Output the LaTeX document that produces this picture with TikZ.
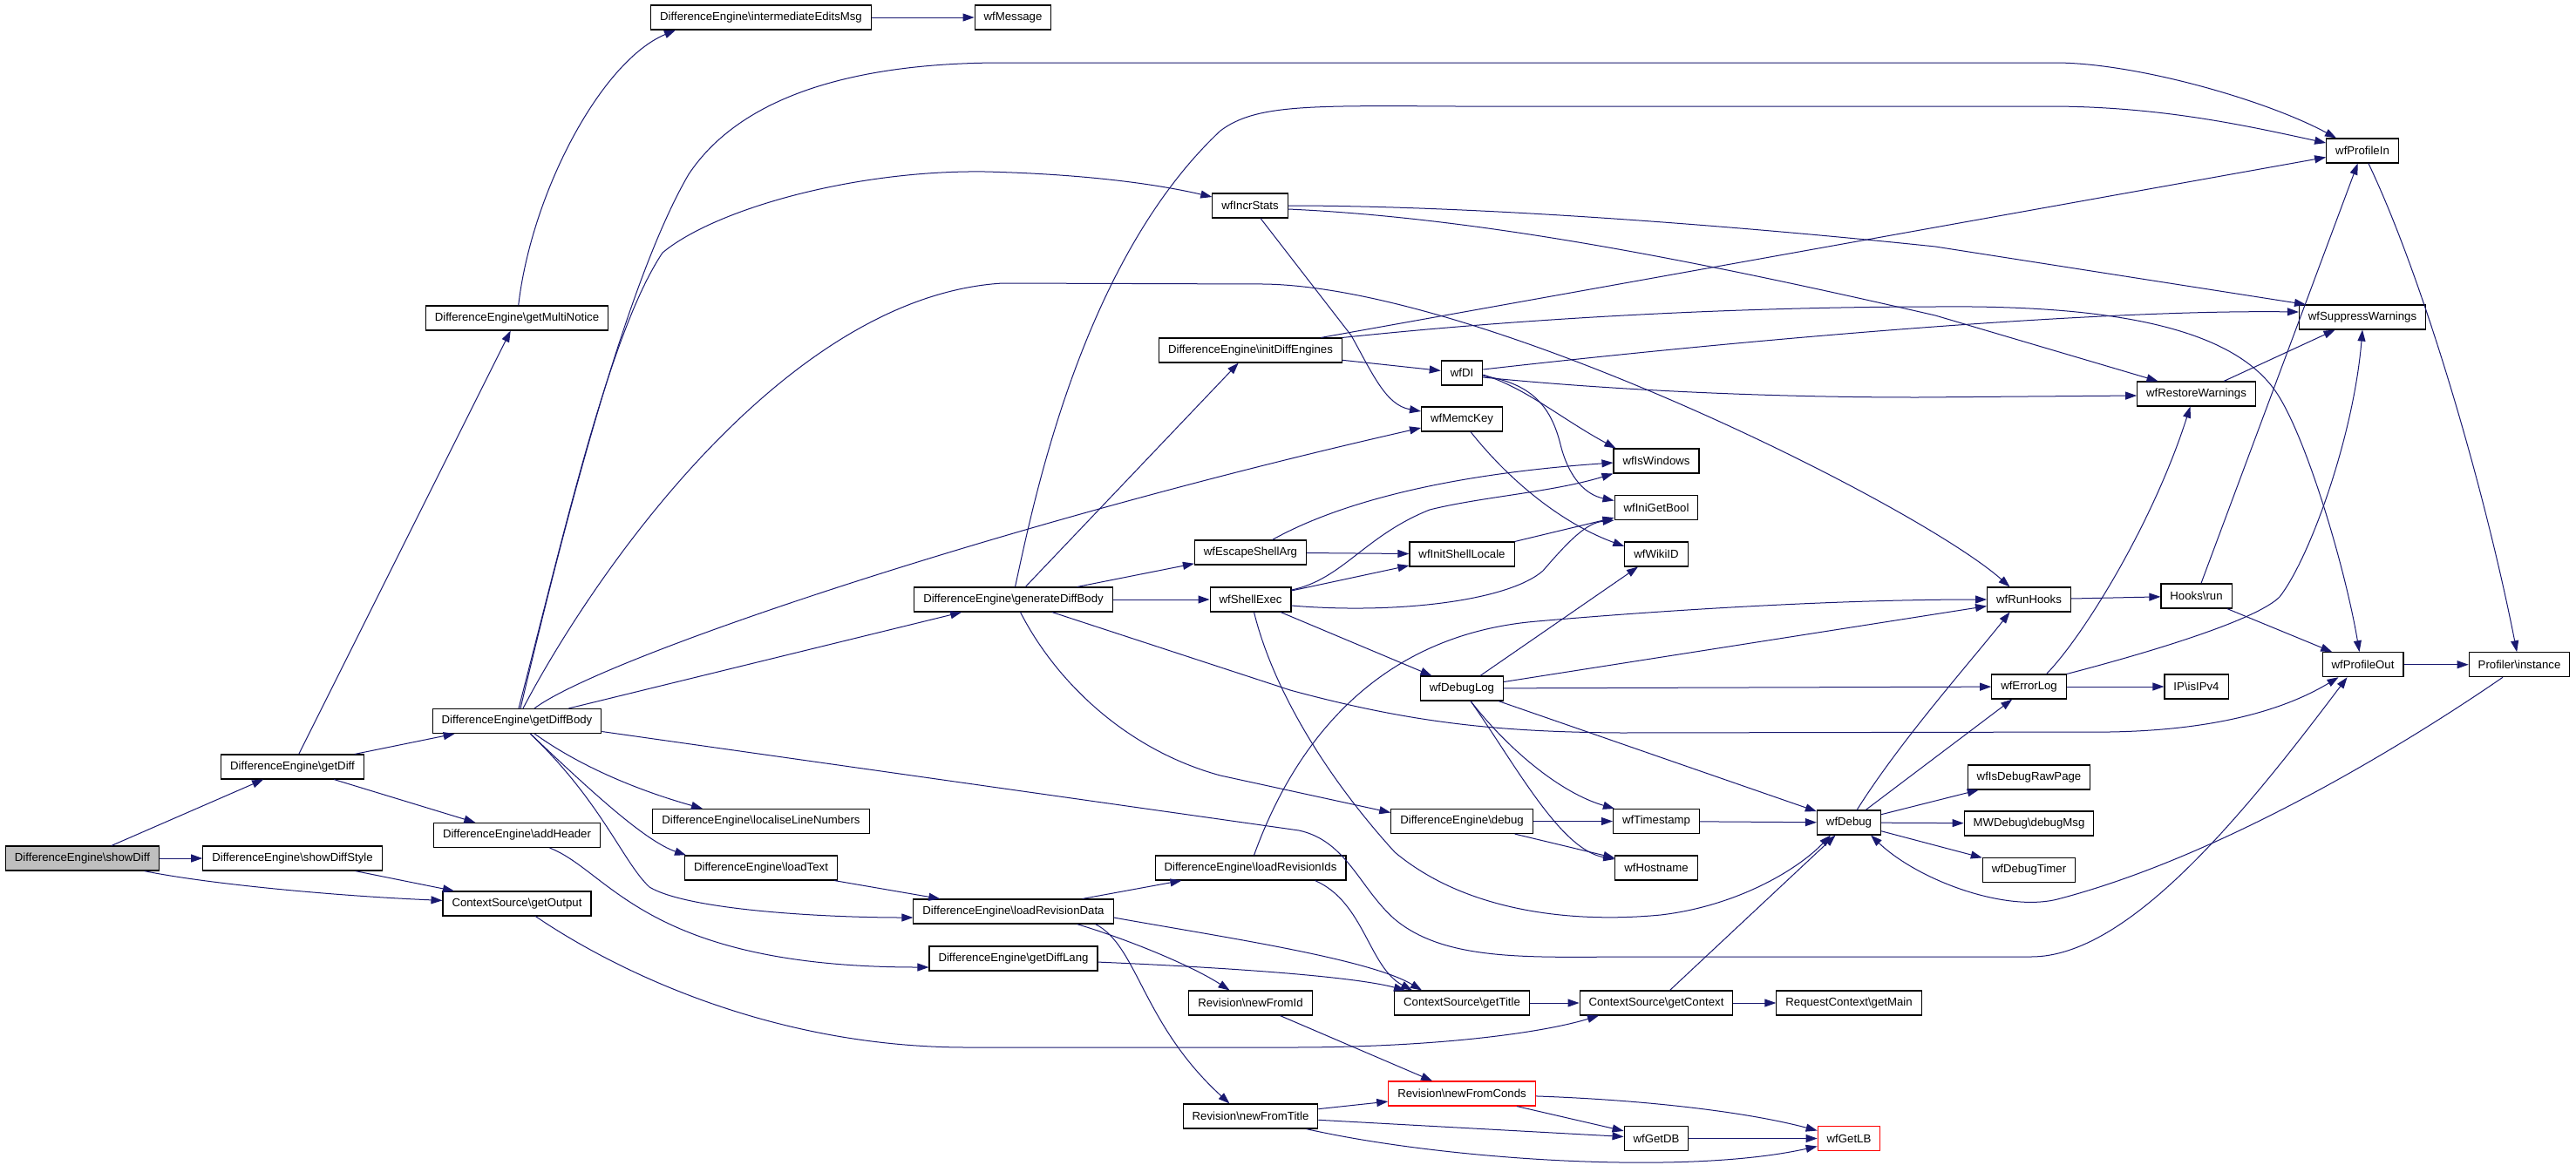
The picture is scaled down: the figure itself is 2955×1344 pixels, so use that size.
\documentclass[tikz,border=0pt]{standalone}
\usepackage{fontspec}
\setmainfont{Liberation Sans}
\usetikzlibrary{arrows.meta}
\definecolor{edgeblue}{HTML}{191970}
\definecolor{rootgray}{HTML}{BFBFBF}
\newcommand{\nsep}{\textbackslash}

\begin{document}
\begin{tikzpicture}[x=1pt, y=-1pt,
  main/.style = {draw, rectangle, line width=1.1pt, minimum height=28pt, inner xsep=10.5pt, inner ysep=0pt, font=\fontsize{13.2}{15}\selectfont},
  root/.style = {main, fill=rootgray},
  cut/.style = {main, draw=red},
  call/.style = {draw=edgeblue, line width=1pt, -{Triangle[length=13pt, width=9pt]}}]
		\fill[white] (0,0) rectangle (2955,1344);
		\useasboundingbox (0,0) rectangle (2955,1344);
		\node[root] (1) at (94.5,985) {DifferenceEngine\nsep showDiff};
		\node[main] (2) at (335.5,880) {DifferenceEngine\nsep getDiff};
		\node[main] (3) at (335.5,985) {DifferenceEngine\nsep showDiffStyle};
		\node[main] (4) at (593,365) {DifferenceEngine\nsep getMultiNotice};
		\node[main] (5) at (593,827.5) {DifferenceEngine\nsep getDiffBody};
		\node[main] (6) at (593,958.5) {DifferenceEngine\nsep addHeader};
		\node[main] (7) at (593,1037) {ContextSource\nsep getOutput};
		\node[main] (8) at (873,20) {DifferenceEngine\nsep intermediateEditsMsg};
		\node[main] (9) at (873,942.5) {DifferenceEngine\nsep localiseLineNumbers};
		\node[main] (10) at (873,996) {DifferenceEngine\nsep loadText};
		\node[main] (11) at (1162,20) {wfMessage};
		\node[main] (12) at (1162.5,688) {DifferenceEngine\nsep generateDiffBody};
		\node[main] (13) at (1162.5,1046) {DifferenceEngine\nsep loadRevisionData};
		\node[main] (14) at (1162.5,1100) {DifferenceEngine\nsep getDiffLang};
		\node[main] (15) at (1434,236) {wfIncrStats};
		\node[main] (16) at (1434.5,402) {DifferenceEngine\nsep initDiffEngines};
		\node[main] (17) at (1434.5,634) {wfEscapeShellArg};
		\node[main] (18) at (1434.5,688) {wfShellExec};
		\node[main] (19) at (1434.5,996) {DifferenceEngine\nsep loadRevisionIds};
		\node[main] (20) at (1434.5,1151) {Revision\nsep newFromId};
		\node[main] (21) at (1434.5,1281) {Revision\nsep newFromTitle};
		\node[main] (22) at (1677,428) {wfDI};
		\node[main] (23) at (1677,481) {wfMemcKey};
		\node[main] (24) at (1677,636) {wfInitShellLocale};
		\node[main] (25) at (1677,790) {wfDebugLog};
		\node[main] (26) at (1677,942.5) {DifferenceEngine\nsep debug};
		\node[main] (27) at (1677,1151) {ContextSource\nsep getTitle};
		\node[cut] (28) at (1677,1255) {Revision\nsep newFromConds};
		\node[main] (29) at (1900,529) {wfIsWindows};
		\node[main] (30) at (1900,582.5) {wfIniGetBool};
		\node[main] (31) at (1900,636) {wfWikiID};
		\node[main] (32) at (1900,942.5) {wfTimestamp};
		\node[main] (33) at (1900,996) {wfHostname};
		\node[main] (34) at (1900,1151) {ContextSource\nsep getContext};
		\node[main] (35) at (1900,1306.5) {wfGetDB};
		\node[main] (36) at (2121,944) {wfDebug};
		\node[main] (37) at (2121,1151) {RequestContext\nsep getMain};
		\node[cut] (38) at (2121,1306.5) {wfGetLB};
		\node[main] (39) at (2327.5,688) {wfRunHooks};
		\node[main] (40) at (2327.5,788) {wfErrorLog};
		\node[main] (41) at (2327.5,892) {wfIsDebugRawPage};
		\node[main] (42) at (2327.5,945) {MWDebug\nsep debugMsg};
		\node[main] (43) at (2327.5,998.5) {wfDebugTimer};
		\node[main] (44) at (2519.5,452) {wfRestoreWarnings};
		\node[main] (45) at (2519.5,684) {Hooks\nsep run};
		\node[main] (46) at (2519.5,788) {IP\nsep isIPv4};
		\node[main] (47) at (2710,173) {wfProfileIn};
		\node[main] (48) at (2710,364) {wfSuppressWarnings};
		\node[main] (49) at (2710.5,762.7) {wfProfileOut};
		\node[main] (50) at (2890,762.7) {Profiler\nsep instance};
		\draw[call] (1) -- (2);
		\draw[call] (1) -- (3);
		\draw[call] (1) .. controls (236,1014) and (380,1028) .. (7);
		\draw[call] (3) -- (7);
		\draw[call] (2) -- (4);
		\draw[call] (2) -- (5);
		\draw[call] (2) -- (6);
		\draw[call] (4) .. controls (610,220) and (690,70) .. ([xshift=-98pt]8.south);
		\draw[call] (8) -- (11);
		\draw[call] (6) .. controls (700,1000) and (740,1110) .. ([yshift=-10pt]14.west);
		\draw[call] (7) .. controls (700,1110) and (880,1202) .. (1110,1202) -- (1480,1202) .. controls (1650,1202) and (1770,1185) .. ([xshift=-66pt]34.south);
		\draw[call] ([xshift=4pt]5.north) .. controls (650,590) and (720,320) .. (790,200) .. controls (850,110) and (980,72) .. (1150,72) -- (2357,72) .. controls (2450,72) and (2600,115) .. ([xshift=-30pt]47.north);
		\draw[call] ([xshift=2pt]5.north) .. controls (650,600) and (700,380) .. (760,290) .. controls (820,240) and (980,195) .. (1130,197) .. controls (1250,200) and (1330,212) .. ([yshift=10pt]15.west);
		\draw[call] ([xshift=7pt]5.north) .. controls (680,660) and (900,340) .. (1150,325) -- (1450,326) .. controls (1700,330) and (2200,580) .. ([xshift=-22pt]39.north);
		\draw[call] ([xshift=20pt]5.north) .. controls (690,755) and (1150,600) .. ([yshift=-10pt]23.west);
		\draw[call] (5) -- (12);
		\draw[call] ([yshift=-12pt]5.east) -- (1490,953) .. controls (1545,965) and (1560,1020) .. (1600,1055) .. controls (1660,1105) and (1760,1098) .. (1881,1098) -- (2330,1098) .. controls (2440,1098) and (2570,940) .. ([xshift=-18pt]49.south);
		\draw[call] (5) .. controls (680,890) and (760,915) .. ([xshift=-67pt]9.north);
		\draw[call] (5) .. controls (680,910) and (740,965) .. ([xshift=2pt]10.north west);
		\draw[call] (5) .. controls (690,920) and (715,990) .. (745,1018) .. controls (790,1045) and (950,1053) .. ([yshift=-7pt]13.west);
		\draw[call] (10) -- (13);
		\draw[call] (13) -- (19);
		\draw[call] ([yshift=-7pt]13.east) .. controls (1400,1075) and (1570,1100) .. ([xshift=-46pt]27.north);
		\draw[call] ([xshift=73pt]13.south) .. controls (1300,1080) and (1370,1110) .. ([xshift=-24pt]20.north);
		\draw[call] ([xshift=94pt]13.south) .. controls (1305,1085) and (1310,1175) .. ([xshift=-24pt]21.north);
		\draw[call] (14) .. controls (1400,1110) and (1550,1120) .. ([xshift=-65pt]27.north);
		\draw[call] ([xshift=4pt]19.north) .. controls (1475,880) and (1560,730) .. (1763,713) .. controls (1900,701) and (2100,688) .. (39);
		\draw[call] ([xshift=74pt]19.south) .. controls (1565,1035) and (1570,1110) .. ([xshift=-57pt]27.north);
		\draw[call] (20) -- (28);
		\draw[call] (21) -- (28);
		\draw[call] (21) -- (35);
		\draw[call] ([xshift=64pt]21.south) .. controls (1650,1330) and (1930,1350) .. ([yshift=-9pt]38.west);
		\draw[call] (28) -- (35);
		\draw[call] (28) .. controls (1880,1262) and (2000,1275) .. ([yshift=9pt]38.west);
		\draw[call] (35) -- (38);
		\draw[call] (27) -- (34);
		\draw[call] (34) -- (37);
		\draw[call] (34) -- (36);
		\draw[call] ([xshift=2pt]12.north) .. controls (1185,580) and (1240,300) .. (1400,150) .. controls (1440,120) and (1500,121) .. (1670,122) -- (2350,122) .. controls (2480,122) and (2580,145) .. ([yshift=9pt]47.west);
		\draw[call] (12) -- (16);
		\draw[call] (12) -- (17);
		\draw[call] (12) -- (18);
		\draw[call] ([xshift=8pt]12.south) .. controls (1210,780) and (1290,860) .. (1400,890) -- ([yshift=10pt]26.west);
		\draw[call] (12) -- (1480,792) .. controls (1620,830) and (1720,840) .. (1860,841) -- (2420,840) .. controls (2540,838) and (2620,815) .. ([xshift=-28pt]49.south);
		\draw[call] (16) -- (47);
		\draw[call] (16) -- (22);
		\draw[call] (16.north east) .. controls (1800,360) and (2050,352) .. (2220,352) .. controls (2420,350) and (2560,375) .. (2611,450) .. controls (2645,500) and (2690,650) .. ([xshift=-4pt]49.north);
		\draw[call] ([xshift=12pt]15.south) -- (1550,385) .. controls (1575,430) and (1590,465) .. ([yshift=9pt]23.west);
		\draw[call] (15) .. controls (1700,236) and (2000,260) .. (2220,283) -- ([xshift=-65pt]48.north);
		\draw[call] ([yshift=-4pt]15.east) .. controls (1700,250) and (1950,300) .. (2220,362) -- ([xshift=-44pt]44.north);
		\draw[call] ([yshift=-2pt]22.east) .. controls (1750,445) and (1790,480) .. ([xshift=3pt]29.north west);
		\draw[call] (22) .. controls (1760,440) and (1780,470) .. (1790,510) .. controls (1800,550) and (1820,568) .. ([yshift=8pt]30.west);
		\draw[call] ([yshift=4pt]22.east) .. controls (2000,390) and (2400,355) .. ([yshift=6pt]48.west);
		\draw[call] ([yshift=-5pt]22.east) .. controls (1820,445) and (2000,456) .. (2200,456) -- ([yshift=-2pt]44.west);
		\draw[call] ([xshift=10pt]23.south) .. controls (1730,550) and (1790,600) .. ([yshift=9pt]31.west);
		\draw[call] ([xshift=25pt]17.north) .. controls (1530,580) and (1650,545) .. ([yshift=-2pt]29.west);
		\draw[call] (17) -- (24);
		\draw[call] ([yshift=11pt]18.east) .. controls (1540,665) and (1565,615) .. (1640,585) .. controls (1700,570) and (1780,565) .. (29.south west);
		\draw[call] (18) -- (24);
		\draw[call] ([yshift=-7pt]18.east) .. controls (1600,705) and (1730,690) .. (1770,655) .. controls (1800,620) and (1820,600) .. (30.south west);
		\draw[call] (18) -- (25);
		\draw[call] ([xshift=4pt]18.south) .. controls (1460,790) and (1520,890) .. (1600,978) .. controls (1680,1045) and (1800,1060) .. (1905,1050) .. controls (1990,1040) and (2060,1000) .. ([xshift=-21pt]36.south);
		\draw[call] (24) -- (30);
		\draw[call] (25) -- (31);
		\draw[call] (25) -- (39);
		\draw[call] (25) -- (40);
		\draw[call] ([xshift=10pt]25.south) .. controls (1730,860) and (1790,910) .. ([xshift=2pt]32.north west);
		\draw[call] ([xshift=10pt]25.south) .. controls (1740,880) and (1790,975) .. ([yshift=10pt]33.west);
		\draw[call] (25) -- (36);
		\draw[call] (26) -- (32);
		\draw[call] (26) -- (33);
		\draw[call] (32) -- (36);
		\draw[call] (36) .. controls (2180,850) and (2260,760) .. ([xshift=-22pt]39.south);
		\draw[call] (36) -- (40);
		\draw[call] (36) -- (41);
		\draw[call] (36) -- (42);
		\draw[call] (36) -- (43);
		\draw[call] (39) -- (45);
		\draw[call] (45) -- (47);
		\draw[call] (45) -- (49);
		\draw[call] ([xshift=20pt]40.north) .. controls (2390,730) and (2470,600) .. ([xshift=-7pt]44.south);
		\draw[call] (40.north east) .. controls (2480,745) and (2590,710) .. (2615,685) .. controls (2650,640) and (2700,500) .. (48.south);
		\draw[call] (40) -- (46);
		\draw[call] (44) -- (48);
		\draw[call] (47) .. controls (2780,320) and (2850,560) .. (50);
		\draw[call] (49) -- (50);
		\draw[call] ([xshift=-19pt]50.south) .. controls (2780,840) and (2560,980) .. (2360,1032) .. controls (2300,1047) and (2200,1010) .. ([xshift=25pt]36.south);
	\end{tikzpicture}
\end{document}
